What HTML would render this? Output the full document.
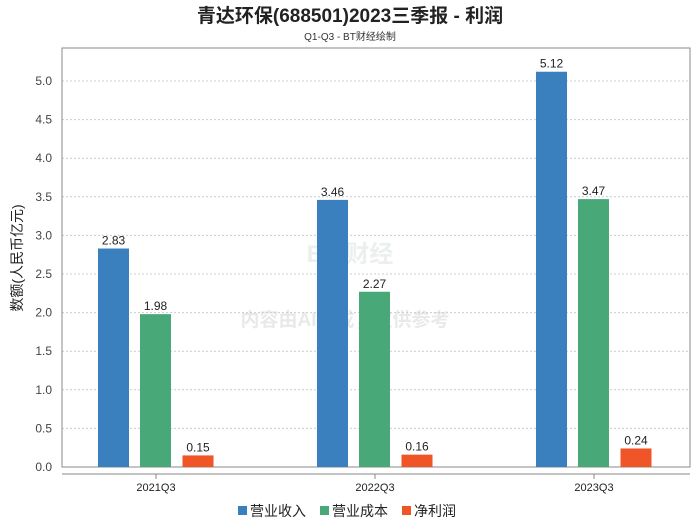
<!DOCTYPE html>
<html><head><meta charset="utf-8">
<style>
body{margin:0;background:#fff;width:700px;height:524px;overflow:hidden;font-family:"Liberation Sans","Noto Sans CJK SC",sans-serif;}
svg text{font-family:"Liberation Sans","Noto Sans CJK SC",sans-serif;}
</style></head>
<body>
<svg id="chart" width="700" height="524">
<text x="350" y="22" text-anchor="middle" font-size="19" font-weight="bold" fill="#222">青达环保(688501)2023三季报 - 利润</text>
<text x="350" y="40" text-anchor="middle" font-size="10" fill="#333">Q1-Q3 - BT财经绘制</text>
<g opacity="0.18">
<text x="350" y="262" text-anchor="middle" font-size="24" font-weight="bold" fill="#9aa" >BT 财经</text>
<text x="345" y="326" text-anchor="middle" font-size="19" font-weight="bold" fill="#888">内容由AI生成，仅供参考</text>
</g>
<g id="grid"></g>
<rect x="62" y="48" width="628" height="419" fill="none" stroke="#888" stroke-width="1"/>
<line x1="62" y1="474" x2="690" y2="474" stroke="#888"/>
<g id="bars"></g>
<text transform="translate(22,258) rotate(-90)" text-anchor="middle" font-size="14" fill="#222">数额(人民币亿元)</text>
<g>
<rect x="238" y="506" width="9" height="9" fill="#3a80bf"/>
<text x="250" y="516" font-size="14" fill="#222">营业收入</text>
<rect x="320" y="506" width="9" height="9" fill="#48a878"/>
<text x="332" y="516" font-size="14" fill="#222">营业成本</text>
<rect x="402" y="506" width="9" height="9" fill="#ef5527"/>
<text x="414" y="516" font-size="14" fill="#222">净利润</text>
</g>
</svg>
<script>
const categories=["2021Q3","2022Q3","2023Q3"];
const revenue=[2.83,3.46,5.12];
const cost=[1.98,2.27,3.47];
const profit=[0.15,0.16,0.24];
const yTicks=[0,0.5,1.0,1.5,2.0,2.5,3.0,3.5,4.0,4.5,5.0];
const NS="http://www.w3.org/2000/svg";
const y0=467,pxPer=77.2;
function yS(v){return y0-v*pxPer;}
function xC(i){return 156+i*219;}
const grid=document.getElementById('grid');
yTicks.forEach(t=>{
 const y=yS(t);
 if(t>0){const l=document.createElementNS(NS,'line');
 l.setAttribute('x1',62);l.setAttribute('x2',690);l.setAttribute('y1',y);l.setAttribute('y2',y);
 l.setAttribute('stroke','#ccc');l.setAttribute('stroke-dasharray','2,2');
 
 
 grid.appendChild(l);}
 const tx=document.createElementNS(NS,'text');
 tx.setAttribute('x',52);tx.setAttribute('y',y+4);tx.setAttribute('text-anchor','end');
 tx.setAttribute('font-size','12');tx.setAttribute('fill','#444');tx.textContent=t.toFixed(1);
 
 
 grid.appendChild(tx);
});
const bars=document.getElementById('bars');
const series=[[revenue,'#3a80bf',-42.5,'revenue'],[cost,'#48a878',-0.5,'cost'],[profit,'#ef5527',42,'profit']];
categories.forEach((c,i)=>{
 series.forEach(s=>{
  const v=s[0][i],cx=xC(i)+s[2];
  const r=document.createElementNS(NS,'rect');
  r.setAttribute('x',cx-15.5);r.setAttribute('width',31);r.setAttribute('y',yS(v));r.setAttribute('height',v*pxPer);
  r.setAttribute('fill',s[1]);
  
  
  bars.appendChild(r);
  const t=document.createElementNS(NS,'text');
  t.setAttribute('x',cx);t.setAttribute('y',yS(v)-4);t.setAttribute('text-anchor','middle');
  t.setAttribute('font-size','12');t.setAttribute('fill','#222');t.textContent=v.toFixed(2);
  
  
  bars.appendChild(t);
 });
 const tk=document.createElementNS(NS,'line');
 tk.setAttribute('x1',xC(i));tk.setAttribute('x2',xC(i));tk.setAttribute('y1',474);tk.setAttribute('y2',479);tk.setAttribute('stroke','#888');
 
 
 bars.appendChild(tk);
 const xl=document.createElementNS(NS,'text');
 xl.setAttribute('x',xC(i));xl.setAttribute('y',491);xl.setAttribute('text-anchor','middle');
 xl.setAttribute('font-size','11');xl.setAttribute('fill','#222');xl.textContent=c;
 
 
 bars.appendChild(xl);
});
</script>
</body></html>
